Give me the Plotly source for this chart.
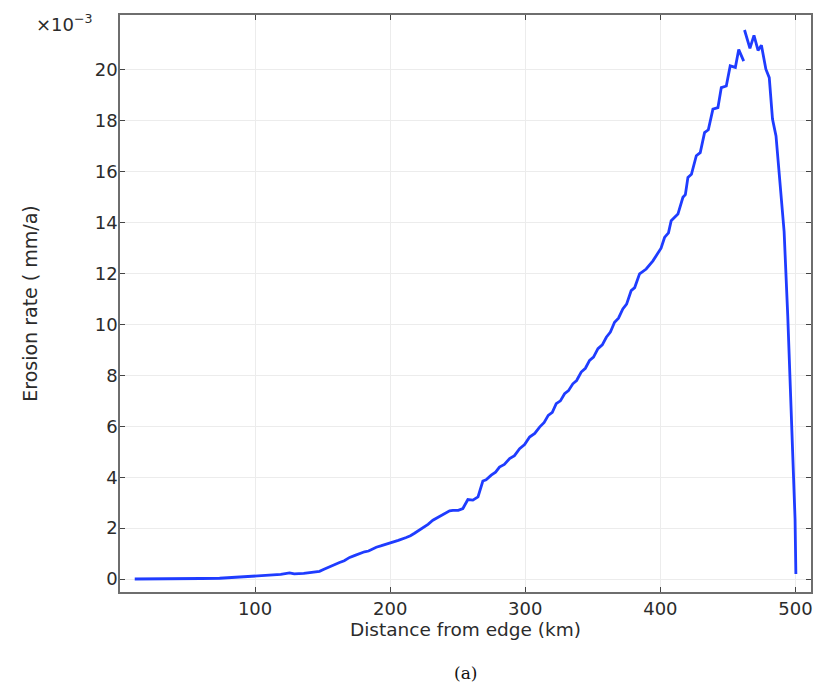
import plotly.graph_objects as go

# Distance from edge (km) and erosion rate (x1e-3 mm/a)
distance_km = [
    10.9, 20, 30, 40, 50, 60, 73.7, 85, 98.4, 106, 113, 119, 125.5, 129, 136, 142.8, 147.7,
    151, 155, 158.5, 162.5, 166, 170, 173.5, 177.3, 181, 184, 189.7, 193, 199.6, 203, 206,
    211.9, 215, 218, 221.8, 225, 228, 231.6, 235, 238, 241.5, 244, 246.4, 250.4, 253.8, 257.5,
    261.2, 265, 268.6, 271, 274.8, 278, 280.9, 284.5, 288.4, 292, 295.8, 299.5, 303.2, 307,
    310.6, 314, 317, 320, 322.9, 326, 329.1, 332, 335.2, 338, 341.4, 344.5, 347.6, 350.5,
    353.8, 357, 360, 363, 366.1, 369, 372.2, 375, 378.4, 381, 384.6, 389.5, 394.5, 398.2,
    400.5, 403.1, 406, 408, 413, 416.7, 418.5, 420.4, 423, 426.6, 429.5, 432.7, 435.5, 438.9,
    442.6, 445.1, 448.8, 451.7, 455.5, 458, 461.7,
    None,
    462.3, 466.3, 469.3, 472.3, 474.8, 478.1, 480.6, 483, 485.6, 488.5, 491.6, 494.3, 496.2,
    498, 499.7, 500.3,
]
erosion_rate = [
    0.0, 0.0, 0.0, 0.005, 0.01, 0.02, 0.03, 0.06, 0.1, 0.13, 0.16, 0.18, 0.24, 0.2, 0.22, 0.25, 0.3,
    0.38, 0.48, 0.55, 0.65, 0.72, 0.85, 0.92, 1.0, 1.07, 1.1, 1.25, 1.3, 1.4, 1.47, 1.52,
    1.63, 1.7, 1.8, 1.92, 2.05, 2.15, 2.31, 2.42, 2.5, 2.6, 2.68, 2.7, 2.7, 2.77, 3.12,
    3.1, 3.23, 3.85, 3.9, 4.08, 4.2, 4.4, 4.5, 4.73, 4.85, 5.12, 5.28, 5.58, 5.72,
    5.97, 6.15, 6.43, 6.55, 6.89, 7.0, 7.28, 7.4, 7.67, 7.8, 8.13, 8.28, 8.59, 8.72,
    9.05, 9.2, 9.5, 9.7, 10.09, 10.25, 10.61, 10.8, 11.33, 11.45, 11.99, 12.18, 12.5, 12.84,
    13.0, 13.42, 13.6, 14.08, 14.34, 15.0, 15.1, 15.78, 15.9, 16.63, 16.75, 17.54, 17.65, 18.46,
    18.52, 19.31, 19.37, 20.16, 20.1, 20.8, 20.35,
    None,
    21.57, 20.85, 21.36, 20.77, 20.97, 20.03, 19.7, 18.07, 17.41, 15.65, 13.65, 10.33, 7.67,
    5.01, 2.35, 0.2,
]

x_ticks = [100, 200, 300, 400, 500]
y_ticks = [0, 2, 4, 6, 8, 10, 12, 14, 16, 18, 20]

font_family = "DejaVu Sans, sans-serif"
text_color = "#2b2b2b"

fig = go.Figure()
fig.add_trace(go.Scatter(
    x=distance_km, y=erosion_rate, mode="lines",
    line=dict(color="#1f3cff", width=2.8),
    connectgaps=False, showlegend=False, hoverinfo="skip",
))

axis_common = dict(
    showline=True, linecolor="#6e6e6e", linewidth=1.5, mirror="allticks",
    ticks="inside", ticklen=5, tickcolor="#444444", tickwidth=1,
    showgrid=True, gridcolor="#ececec", gridwidth=1.2,
    zeroline=False,
    tickfont=dict(family=font_family, size=18, color=text_color),
)

fig.update_xaxes(
    range=[0, 511.5], tickvals=x_ticks, ticktext=[str(v) for v in x_ticks],
    title=dict(text="Distance from edge (km)", font=dict(family=font_family, size=18.5, color=text_color), standoff=5),
    **axis_common,
)
fig.update_yaxes(
    range=[-0.51, 22.16], tickvals=y_ticks, ticktext=[str(v) for v in y_ticks],
    ticklabelstandoff=-3,
    title=dict(text="Erosion rate ( mm/a)", font=dict(family=font_family, size=19, color=text_color), standoff=52),
    **axis_common,
)

fig.add_annotation(
    text="×10<sup>−3</sup>", xref="paper", yref="paper", x=-0.036, y=0.986,
    xanchor="right", yanchor="middle", showarrow=False,
    font=dict(family=font_family, size=18, color=text_color),
)
fig.add_annotation(
    text="(a)", xref="paper", yref="paper", x=0.5, y=-0.14,
    xanchor="center", yanchor="middle", showarrow=False,
    font=dict(family="DejaVu Serif, serif", size=17, color="#111111"),
)

fig.update_layout(
    width=817, height=691,
    margin=dict(l=120, r=4, t=15, b=99),
    plot_bgcolor="white", paper_bgcolor="white",
)

fig.write_html("out.html")
